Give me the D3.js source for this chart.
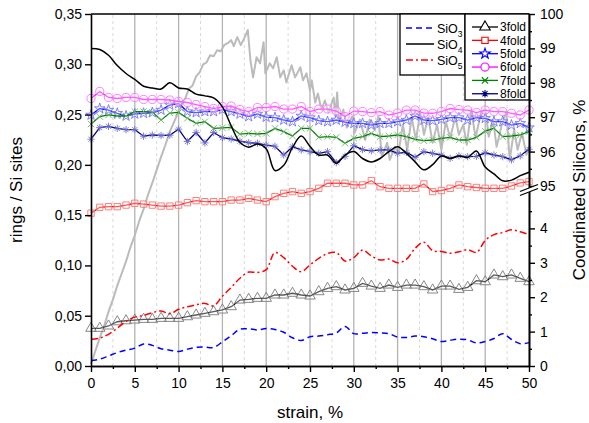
<!DOCTYPE html>
<html>
<head>
<meta charset="utf-8">
<script src="https://cdn.jsdelivr.net/npm/d3@7"></script>
<style>
  body { margin: 0; background: #fff; }
  svg { display: block; font-family: "Liberation Sans", Arial, sans-serif; }
</style>
</head>
<body>
<svg id="chart" width="589" height="423"></svg>
<script>
// ---- data ----
const strain = [0,1,2,3,4,5,6,7,8,9,10,11,12,13,14,15,16,17,18,19,20,21,22,23,24,25,
  26,27,28,29,30,31,32,33,34,35,36,37,38,39,40,41,42,43,44,45,46,47,48,49,50];

// ring statistics (rings / Si sites)
const ring3 = [0.0375,0.0375,0.0398,0.044,0.045,0.0457,0.0464,0.0464,0.0474,0.0474,
  0.0474,0.049,0.0507,0.0524,0.054,0.0557,0.059,0.0656,0.0663,0.0673,
  0.0673,0.0706,0.0706,0.0723,0.0706,0.0696,0.0739,0.0772,0.0789,0.0756,
  0.0772,0.0822,0.0795,0.0772,0.0805,0.0782,0.0805,0.0805,0.0789,0.0756,
  0.0795,0.0795,0.0762,0.0782,0.0848,0.0838,0.0905,0.0888,0.0905,0.0872,0.0838];
const ring4 = [0.152,0.1578,0.1584,0.1584,0.16,0.1618,0.161,0.16,0.159,0.159,
  0.16,0.1624,0.1644,0.1634,0.1634,0.1634,0.165,0.165,0.1667,0.165,
  0.1634,0.1684,0.1717,0.1734,0.1717,0.1734,0.1767,0.1817,0.1817,0.1817,
  0.18,0.18,0.1843,0.1783,0.1767,0.1767,0.1767,0.1767,0.181,0.1734,
  0.1745,0.1767,0.18,0.1783,0.1775,0.1767,0.1767,0.1767,0.179,0.182,0.1834];
const ring5 = [0.2496,0.256,0.2545,0.2513,0.2486,0.2506,0.2513,0.252,0.2545,0.2595,
  0.261,0.253,0.252,0.253,0.253,0.255,0.253,0.2506,0.248,0.2506,
  0.2475,0.247,0.2446,0.243,0.2486,0.247,0.244,0.243,0.2446,0.2425,
  0.2413,0.2413,0.2396,0.2413,0.2413,0.243,0.2446,0.2486,0.2446,0.244,
  0.2453,0.247,0.247,0.2446,0.247,0.2463,0.243,0.243,0.2396,0.2413,0.237];
const ring6 = [0.266,0.273,0.267,0.266,0.267,0.267,0.265,0.265,0.265,0.2645,
  0.263,0.262,0.26,0.258,0.256,0.258,0.2585,0.255,0.253,0.257,
  0.257,0.258,0.2555,0.2555,0.258,0.253,0.2555,0.2555,0.2535,0.248,
  0.2535,0.253,0.252,0.253,0.2495,0.2515,0.2545,0.2545,0.2515,0.2513,
  0.253,0.256,0.255,0.2545,0.252,0.2545,0.253,0.253,0.2513,0.2496,0.2545];
const ring7 = [0.2406,0.248,0.2496,0.2486,0.2486,0.253,0.253,0.2525,0.2446,0.2515,
  0.2522,0.2463,0.2413,0.243,0.2363,0.2368,0.2373,0.2305,0.2313,0.2307,
  0.2313,0.2363,0.233,0.2287,0.2363,0.2363,0.2274,0.228,0.2274,0.2215,
  0.2264,0.228,0.2313,0.228,0.2287,0.2297,0.228,0.2254,0.224,0.2247,
  0.2264,0.2274,0.2247,0.2247,0.2274,0.2335,0.2365,0.228,0.2287,0.2297,0.233];
const ring8 = [0.2255,0.237,0.2383,0.2363,0.235,0.235,0.2285,0.2297,0.2292,0.2295,
  0.2355,0.2232,0.2322,0.2218,0.2322,0.227,0.2257,0.2235,0.222,0.2215,
  0.2197,0.2185,0.2098,0.218,0.2148,0.2131,0.2115,0.2131,0.2022,0.2085,
  0.219,0.2152,0.214,0.2148,0.2148,0.2115,0.2125,0.2075,0.2131,0.2115,
  0.2098,0.2065,0.2089,0.2081,0.2085,0.212,0.2098,0.2081,0.205,0.209,0.2155];

// coordinated silicons, %
const sio3 = [0.16,0.2,0.29,0.39,0.46,0.52,0.64,0.6,0.5,0.46,
  0.42,0.49,0.54,0.55,0.54,0.7,0.88,1.07,1.08,1.05,
  1.09,1.06,0.98,0.82,0.74,0.85,0.87,0.91,0.96,1.15,
  0.94,0.95,0.97,0.96,0.94,0.84,0.83,0.87,0.85,0.79,
  0.71,0.75,0.78,0.76,0.67,0.71,0.8,0.94,0.77,0.65,0.68];
const sio4 = [99.0,98.97,98.8,98.5,98.27,98.1,97.9,97.85,97.82,98.0,
  97.85,97.82,97.67,97.62,97.56,97.3,96.75,96.27,96.13,96.22,
  96.08,95.45,95.6,96.12,96.45,96.15,95.9,95.9,95.66,95.9,
  96.0,95.8,95.7,95.8,96.0,96.14,95.95,95.7,95.47,95.62,
  95.87,95.8,95.87,95.83,96.02,95.55,95.35,95.15,95.17,95.3,95.4];
const sio5 = [0.78,0.81,0.92,1.1,1.3,1.42,1.47,1.55,1.6,1.52,
  1.65,1.72,1.78,1.82,1.75,2.03,2.28,2.55,2.73,2.72,
  2.8,3.3,3.15,2.9,2.74,2.94,3.13,3.27,3.3,3.05,
  3.15,3.37,3.2,3.08,3.11,3.0,3.1,3.42,3.6,3.35,
  3.33,3.28,3.32,3.38,3.3,3.65,3.82,3.88,3.96,3.9,3.82];

// stress trace, drawn in grey against the left scale
const stressStrain = [0,0.5,1,1.5,2,2.5,3,3.5,4,4.5,5,5.5,6,6.5,7,7.5,8,8.5,9,9.5,
  10,10.4,10.8,11.2,11.6,12,12.4,12.8,13.2,13.6,14,14.4,14.8,15.2,15.6,16,16.3,16.7,17.1,17.5,
  17.9,18.2,18.5,18.9,19.3,19.7,19.9,20.4,20.8,21.2,21.6,22.0,22.3,22.9,23.3,23.9,24.2,24.6,25.0,25.2,
  25.6,25.9,26.3,26.7,27.1,27.7,27.9,28.1,28.3,28.8,29.2,29.8,30.1,30.7,31.3,31.8,32.4,32.8,33.2,33.8,
  34.1,34.7,35.1,35.6,36.1,36.6,37.1,37.6,38.0,38.5,39.0,39.5,40.0,40.5,41.0,41.6,42.0,42.5,42.9,43.4,
  43.9,44.4,45.0,45.4,45.9,46.3,46.9,47.4,47.8,48.3,48.7,49.2,49.7,50.0];
const stressLevel = [0.002,0.015,0.028,0.04,0.054,0.066,0.08,0.092,0.104,0.118,0.13,0.144,0.156,0.17,0.182,0.195,0.208,0.22,0.233,0.243,
  0.253,0.261,0.267,0.276,0.279,0.288,0.292,0.3,0.302,0.309,0.308,0.314,0.313,0.319,0.321,0.324,0.318,0.327,0.319,0.326,
  0.334,0.304,0.287,0.307,0.301,0.322,0.291,0.301,0.296,0.307,0.287,0.294,0.282,0.299,0.287,0.297,0.284,0.291,0.274,0.284,
  0.262,0.271,0.255,0.264,0.252,0.267,0.248,0.272,0.243,0.255,0.237,0.248,0.232,0.245,0.225,0.245,0.235,0.248,0.208,0.222,
  0.205,0.218,0.212,0.24,0.215,0.247,0.225,0.253,0.23,0.247,0.222,0.24,0.215,0.243,0.227,0.248,0.23,0.24,0.22,0.255,
  0.227,0.247,0.257,0.228,0.245,0.218,0.24,0.253,0.205,0.235,0.215,0.232,0.21,0.217];

// tick values
const strainTicks = [0,5,10,15,20,25,30,35,40,45,50];
const strainMinor = [2.5,7.5,12.5,17.5,22.5,27.5,32.5,37.5,42.5,47.5];
const leftTicks = [0,0.05,0.10,0.15,0.20,0.25,0.30,0.35];
const rightTicks = [0,1,2,3,4,95,96,97,98,99,100];
const rightMinor = [0.5,1.5,2.5,3.5,4.5,95.5,96.5,97.5,98.5,99.5];

// ---- layout ----
const svg = d3.select("#chart");
const X0 = 91, X1 = 529, Y0 = 366, Y1 = 14;
const x = d3.scaleLinear().domain([0, 50]).range([X0, X1]);
const yL = d3.scaleLinear().domain([0, 0.35]).range([Y0, Y1]);
// right axis is broken between 5 and 95 %
const yR = d3.scaleLinear().domain([0, 5, 95, 100]).range([Y0, 194, 186, Y1]);

// vertical grid
svg.append("g").selectAll("line").data(strainMinor).join("line")
  .attr("x1", d => x(d)).attr("x2", d => x(d)).attr("y1", Y0).attr("y2", Y1)
  .attr("stroke", "#cfcfcf").attr("stroke-width", 0.8).attr("stroke-dasharray", "3,3");
svg.append("g").selectAll("line").data(strainTicks.slice(1, -1)).join("line")
  .attr("x1", d => x(d)).attr("x2", d => x(d)).attr("y1", Y0).attr("y2", Y1)
  .attr("stroke", "#b3b3b3").attr("stroke-width", 1.3);

// grey stress trace
svg.append("path")
  .datum(stressStrain.map((s, i) => [s, stressLevel[i]]))
  .attr("fill", "none").attr("stroke", "#bbbbbb").attr("stroke-width", 2)
  .attr("stroke-linejoin", "round")
  .attr("d", d3.line().x(d => x(d[0])).y(d => yL(d[1])));

// marker shapes
const crossSym = { draw(ctx, size) { const r = Math.sqrt(size) / 2;
  ctx.moveTo(-r, -r); ctx.lineTo(r, r); ctx.moveTo(-r, r); ctx.lineTo(r, -r); } };
const asteriskSym = { draw(ctx, size) { const r = Math.sqrt(size) / 2 * 1.15, c = r * 0.7;
  ctx.moveTo(0, -r); ctx.lineTo(0, r); ctx.moveTo(-r, 0); ctx.lineTo(r, 0);
  ctx.moveTo(-c, -c); ctx.lineTo(c, c); ctx.moveTo(-c, c); ctx.lineTo(c, -c); } };

const rings = [
  { name: "3fold", values: ring3, line: "#000000", mark: "#7a7a7a", sym: d3.symbolTriangle, size: 48, fill: "#fff" },
  { name: "4fold", values: ring4, line: "#ff0000", mark: "#ff7070", sym: d3.symbolSquare, size: 40, fill: "#fff" },
  { name: "5fold", values: ring5, line: "#0000ff", mark: "#7070ff", sym: d3.symbolStar, size: 34, fill: "#fff" },
  { name: "6fold", values: ring6, line: "#ff00ff", mark: "#ff70ff", sym: d3.symbolCircle, size: 52, fill: "#fff" },
  { name: "7fold", values: ring7, line: "#008000", mark: "#70b070", sym: crossSym, size: 40, fill: "none" },
  { name: "8fold", values: ring8, line: "#000080", mark: "#7070d0", sym: asteriskSym, size: 40, fill: "none" }
];

const ringLine = d3.line().x((d, i) => x(strain[i])).y(d => yL(d));
rings.forEach(r => {
  const g = svg.append("g");
  g.append("path").datum(r.values)
    .attr("fill", "none").attr("stroke", r.line).attr("stroke-width", 1.3)
    .attr("d", ringLine);
  g.selectAll("path.m").data(r.values).join("path").attr("class", "m")
    .attr("transform", (d, i) => `translate(${x(strain[i])},${yL(d)})`)
    .attr("d", d3.symbol(r.sym, r.size))
    .attr("fill", r.fill).attr("fill-opacity", 0.35)
    .attr("stroke", r.mark).attr("stroke-width", 0.9);
});

// coordination curves on the right scale
const smooth = d3.line().x((d, i) => x(strain[i])).y(d => yR(d)).curve(d3.curveCatmullRom.alpha(0.5));
const silicons = [
  { name: "SiO", sub: "3", values: sio3, color: "#0000ff", dash: "6,4" },
  { name: "SiO", sub: "4", values: sio4, color: "#000000", dash: null },
  { name: "SiO", sub: "5", values: sio5, color: "#ff0000", dash: "7,3,2,3" }
];
silicons.forEach(s => {
  svg.append("path").datum(s.values)
    .attr("fill", "none").attr("stroke", s.color).attr("stroke-width", 1.5)
    .attr("stroke-dasharray", s.dash)
    .attr("d", smooth);
});

// ---- axes ----
const fmtComma = d => d3.format(".2f")(d).replace(".", ",");
function styleAxis(g, fs) {
  g.selectAll(".domain").attr("stroke", "#000").attr("stroke-width", 1.6);
  g.selectAll(".tick line").attr("stroke", "#000").attr("stroke-width", 1.4);
  g.selectAll(".tick text").attr("fill", "#000").style("font-size", fs + "px")
    .style("font-family", '"Liberation Sans", Arial, sans-serif');
}
const gL = svg.append("g").attr("transform", `translate(${X0},0)`)
  .call(d3.axisLeft(yL).tickValues(leftTicks).tickFormat(fmtComma).tickSize(6).tickPadding(3).tickSizeOuter(0));
styleAxis(gL, 14);

const gB = svg.append("g").attr("transform", `translate(0,${Y0})`)
  .call(d3.axisBottom(x).tickValues(strainTicks).tickFormat(d3.format("d")).tickSize(6).tickPadding(6).tickSizeOuter(0));
styleAxis(gB, 14);
const gBm = svg.append("g").attr("transform", `translate(0,${Y0})`)
  .call(d3.axisBottom(x).tickValues(strainMinor).tickFormat("").tickSize(3).tickSizeOuter(0));
styleAxis(gBm, 14);

const gR = svg.append("g").attr("transform", `translate(${X1},0)`)
  .call(d3.axisRight(yR).tickValues(rightTicks).tickFormat(d3.format("d")).tickSize(6).tickPadding(5).tickSizeOuter(0));
styleAxis(gR, 14);
const gRm = svg.append("g").attr("transform", `translate(${X1},0)`)
  .call(d3.axisRight(yR).tickValues(rightMinor).tickFormat("").tickSize(3).tickSizeOuter(0));
styleAxis(gRm, 14);

// top frame line
svg.append("line").attr("x1", X0).attr("x2", X1).attr("y1", Y1).attr("y2", Y1)
  .attr("stroke", "#000").attr("stroke-width", 1.6);

// axis break symbol on the right axis
const yb = (yR(95) + yR(5)) / 2;
svg.append("path")
  .attr("d", `M${X1 - 8},${yb + 1} L${X1 + 8},${yb - 5} L${X1 + 8},${yb - 1} L${X1 - 8},${yb + 5} Z`)
  .attr("fill", "#fff");
[[1, -5], [5, -1]].forEach(([a, b]) => {
  svg.append("line").attr("x1", X1 - 9).attr("y1", yb + a + 0.5).attr("x2", X1 + 9).attr("y2", yb + b - 0.5)
    .attr("stroke", "#000").attr("stroke-width", 1.3);
});

// axis titles
svg.append("text").attr("transform", `translate(22,${(Y0 + Y1) / 2}) rotate(-90)`)
  .attr("text-anchor", "middle").style("font-size", "17px").text("rings / Si sites");
svg.append("text").attr("transform", `translate(585,${(Y0 + Y1) / 2}) rotate(-90)`)
  .attr("text-anchor", "middle").style("font-size", "17px").text("Coordinated Silicons, %");
svg.append("text").attr("x", (X0 + X1) / 2).attr("y", 418)
  .attr("text-anchor", "middle").style("font-size", "17px").text("strain, %");

// ---- legends ----
const lg1 = svg.append("g");
lg1.append("rect").attr("x", 400).attr("y", Y1).attr("width", 65).attr("height", 61)
  .attr("fill", "#fff").attr("stroke", "#000").attr("stroke-width", 1.3);
silicons.forEach((s, i) => {
  const cy = 28 + i * 16;
  lg1.append("line").attr("x1", 406).attr("x2", 434).attr("y1", cy).attr("y2", cy)
    .attr("stroke", s.color).attr("stroke-width", 1.5).attr("stroke-dasharray", s.dash);
  const t = lg1.append("text").attr("x", 437).attr("y", cy + 4.5).style("font-size", "12.5px");
  t.append("tspan").text(s.name);
  t.append("tspan").attr("dy", 4).style("font-size", "8.5px").text(s.sub);
});

const lg2 = svg.append("g");
lg2.append("rect").attr("x", 465).attr("y", Y1).attr("width", X1 - 465).attr("height", 86)
  .attr("fill", "#fff").attr("stroke", "#000").attr("stroke-width", 1.3);
rings.forEach((r, i) => {
  const cy = 27 + i * 13.35;
  lg2.append("line").attr("x1", 472).attr("x2", 498).attr("y1", cy).attr("y2", cy)
    .attr("stroke", r.line).attr("stroke-width", 1.3);
  lg2.append("path").attr("transform", `translate(485,${cy})`)
    .attr("d", d3.symbol(r.sym, r.size))
    .attr("fill", r.fill === "none" ? "none" : "#fff").attr("stroke", r.line).attr("stroke-width", 1.1);
  lg2.append("text").attr("x", 500).attr("y", cy + 4.3).style("font-size", "12px").text(r.name);
});
</script>
</body>
</html>
